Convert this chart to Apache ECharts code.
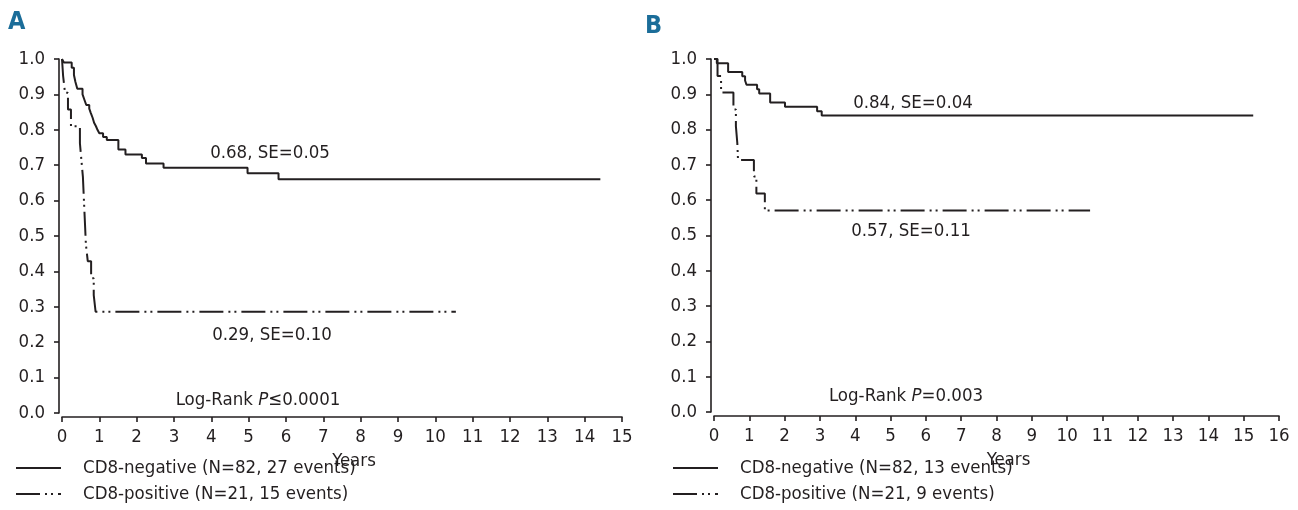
<!DOCTYPE html>
<html>
<head>
<meta charset="utf-8">
<script src="https://cdn.jsdelivr.net/npm/echarts@6/dist/echarts.min.js"></script>
<style>
  html, body { margin: 0; padding: 0; background: #fff; }
  #chart { width: 1298px; height: 510px; }
</style>
</head>
<body>
<div id="chart"></div>
<script>
// Kaplan-Meier steps [years, survival]
var negA = [[0, 1], [0.05, 0.99], [0.26, 0.975], [0.32, 0.955], [0.36, 0.935], [0.41, 0.916],
    [0.55, 0.9], [0.6, 0.885], [0.65, 0.87], [0.73, 0.86], [0.77, 0.848], [0.82, 0.834],
    [0.86, 0.82], [0.91, 0.81], [0.95, 0.8], [1.0, 0.79], [1.1, 0.78], [1.2, 0.771],
    [1.51, 0.744], [1.7, 0.73], [2.14, 0.72], [2.25, 0.705], [2.72, 0.693], [4.97, 0.677],
    [5.8, 0.66], [14.42, 0.66]];
var posA = [[0, 1], [0.03, 0.952], [0.08, 0.905], [0.16, 0.857], [0.24, 0.81], [0.48, 0.762],
    [0.52, 0.714], [0.56, 0.667], [0.58, 0.619], [0.6, 0.571], [0.62, 0.524], [0.64, 0.476],
    [0.69, 0.429], [0.78, 0.381], [0.85, 0.333], [0.9, 0.286], [10.55, 0.286]];
var negB = [[0, 1], [0.08, 0.988], [0.4, 0.963], [0.8, 0.951], [0.88, 0.939], [0.92, 0.927],
    [1.22, 0.914], [1.28, 0.902], [1.59, 0.877], [2.01, 0.865], [2.92, 0.852], [3.05, 0.84],
    [15.27, 0.84]];
var posB = [[0, 1], [0.1, 0.952], [0.2, 0.905], [0.55, 0.857], [0.62, 0.81], [0.66, 0.762],
    [0.68, 0.714], [1.13, 0.667], [1.2, 0.619], [1.44, 0.571], [10.65, 0.571]];

var legendA = ['CD8-negative (N=82, 27 events)', 'CD8-positive (N=21, 15 events)'];
var legendB = ['CD8-negative (N=82, 13 events)', 'CD8-positive (N=21, 9 events)'];
var notesA = ['0.68, SE=0.05', '0.29, SE=0.10', 'Log-Rank {i|P}≤0.0001'];
var notesB = ['0.84, SE=0.04', '0.57, SE=0.11', 'Log-Rank {i|P}=0.003'];

var FONT = "'DejaVu Sans Condensed', 'Liberation Sans Narrow', 'Liberation Sans', sans-serif";
var INK = '#231f20';
var dashDot = [24, 5, 2, 4, 2, 5];

var chart = echarts.init(document.getElementById('chart'));

function xAx(idx, max) {
    return {
        type: 'value', gridIndex: idx, min: 0, max: max, interval: 1, offset: 4,
        name: 'Years', nameLocation: 'middle', nameGap: 21,
        nameTextStyle: { color: INK, fontFamily: FONT, fontSize: 18.5, padding: [0, 0, 0, 24] },
        axisLine: { onZero: false, lineStyle: { color: INK, width: 1.6 } },
        axisTick: { length: 5, lineStyle: { color: INK, width: 1.6 } },
        axisLabel: { color: INK, fontFamily: FONT, fontSize: 18.5, margin: 11 },
        splitLine: { show: false }
    };
}
function yAx(idx) {
    return {
        type: 'value', gridIndex: idx, min: 0, max: 1, interval: 0.1, offset: 3,
        axisLine: { show: true, onZero: false, lineStyle: { color: INK, width: 1.6 } },
        axisTick: { show: true, length: 5, lineStyle: { color: INK, width: 1.6 } },
        axisLabel: { color: INK, fontFamily: FONT, fontSize: 18.5, margin: 14,
            formatter: function (v) { return v.toFixed(1); } },
        splitLine: { show: false }
    };
}
function curve(name, data, idx, dashed) {
    return {
        name: name, type: 'line', step: 'end', data: data, symbol: 'none',
        xAxisIndex: idx, yAxisIndex: idx, animation: false,
        itemStyle: { color: INK },
        lineStyle: { color: INK, width: 2, type: dashed ? dashDot : 'solid' }
    };
}
function note(text, x, y) {
    return {
        type: 'text', x: x, y: y,
        style: {
            text: text, fill: INK, font: '18.5px ' + FONT,
            textAlign: 'center', textVerticalAlign: 'middle',
            rich: { i: { fontStyle: 'italic', fontFamily: FONT, fontSize: 18.5, fill: INK } }
        }
    };
}
function legend(names, left) {
    return {
        data: names, orient: 'vertical', left: left, top: 458, padding: 0,
        itemWidth: 45, itemHeight: 14, itemGap: 6,
        itemStyle: { opacity: 0 },
        textStyle: { color: INK, fontFamily: FONT, fontSize: 18.5, lineHeight: 20, padding: [0, 0, 0, 17] }
    };
}

option = {
    backgroundColor: '#fff',
    title: [
        { text: 'A', left: 8, top: 10, padding: 0,
          textStyle: { color: '#1b6d99', fontFamily: FONT, fontWeight: 'bold', fontSize: 25 } },
        { text: 'B', left: 645, top: 14, padding: 0,
          textStyle: { color: '#1b6d99', fontFamily: FONT, fontWeight: 'bold', fontSize: 25 } }
    ],
    grid: [
        { left: 62, top: 59, width: 560, height: 354 },
        { left: 714, top: 59, width: 565, height: 353 }
    ],
    xAxis: [xAx(0, 15), xAx(1, 16)],
    yAxis: [yAx(0), yAx(1)],
    legend: [legend(legendA, 15), legend(legendB, 672)],
    series: [
        curve(legendA[0], negA, 0, false),
        curve(legendA[1], posA, 0, true),
        curve(legendB[0], negB, 1, false),
        curve(legendB[1], posB, 1, true)
    ],
    graphic: [
        note(notesA[0], 270, 153),
        note(notesA[1], 272, 335),
        note(notesA[2], 258, 400),
        note(notesB[0], 913, 103),
        note(notesB[1], 911, 231),
        note(notesB[2], 906, 396)
    ]
};
chart.setOption(option);
</script>
</body>
</html>
